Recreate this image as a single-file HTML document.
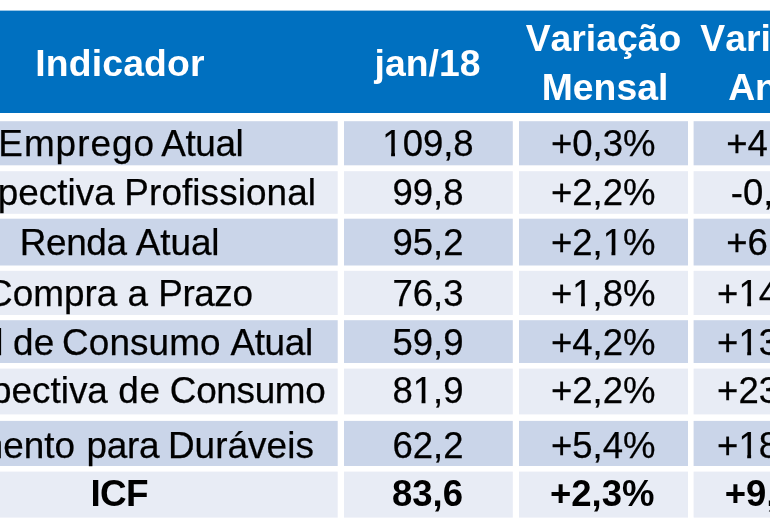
<!DOCTYPE html>
<html lang="pt-BR"><head><meta charset="utf-8"><title>ICF - Indicadores</title>
<style>
html,body{margin:0;padding:0;background:#fff;}
body{width:770px;height:529px;overflow:hidden;position:relative;font-family:"Liberation Sans",Arial,sans-serif;font-size:36.9px;color:#000;}
#wrap{position:absolute;left:0;top:0;width:770px;height:529px;overflow:hidden;filter:blur(0.45px);}
svg{position:absolute;left:0;top:0;}
.h{font-kerning:none;position:absolute;font-size:37.33px;color:#fff;font-weight:bold;text-align:center;white-space:nowrap;line-height:44px;width:400px;}
.x{-webkit-text-stroke:0.25px #000;position:absolute;text-align:center;white-space:nowrap;line-height:40px;width:600px;}
.x span{position:relative;}
.x span.o{display:inline-block;clip-path:polygon(0 0,100% 0,100% 29px,12.7px 29px,12.7px 100%,8.8px 100%,8.8px 29px,0 29px);}
.t{font-weight:bold;-webkit-text-stroke:0;}
</style></head><body><div id="wrap">
<svg width="770" height="529" viewBox="0 0 770 529">
<rect x="-10" y="-10" width="790" height="549" fill="#ffffff"/>
<rect x="-10" y="10.6" width="790" height="102.4" fill="#0070c0"/>
<rect x="-96" y="121.2" width="433.7" height="44.1" fill="#cad5e9"/>
<rect x="344" y="121.2" width="168.8" height="44.1" fill="#cad5e9"/>
<rect x="519" y="121.2" width="169.0" height="44.1" fill="#cad5e9"/>
<rect x="693.6" y="121.2" width="174.4" height="44.1" fill="#cad5e9"/>
<rect x="-96" y="171.2" width="433.7" height="42.6" fill="#e8ecf5"/>
<rect x="344" y="171.2" width="168.8" height="42.6" fill="#e8ecf5"/>
<rect x="519" y="171.2" width="169.0" height="42.6" fill="#e8ecf5"/>
<rect x="693.6" y="171.2" width="174.4" height="42.6" fill="#e8ecf5"/>
<rect x="-96" y="218.7" width="433.7" height="46.8" fill="#cad5e9"/>
<rect x="344" y="218.7" width="168.8" height="46.8" fill="#cad5e9"/>
<rect x="519" y="218.7" width="169.0" height="46.8" fill="#cad5e9"/>
<rect x="693.6" y="218.7" width="174.4" height="46.8" fill="#cad5e9"/>
<rect x="-96" y="270.8" width="433.7" height="44.2" fill="#e8ecf5"/>
<rect x="344" y="270.8" width="168.8" height="44.2" fill="#e8ecf5"/>
<rect x="519" y="270.8" width="169.0" height="44.2" fill="#e8ecf5"/>
<rect x="693.6" y="270.8" width="174.4" height="44.2" fill="#e8ecf5"/>
<rect x="-96" y="320.2" width="433.7" height="42.8" fill="#cad5e9"/>
<rect x="344" y="320.2" width="168.8" height="42.8" fill="#cad5e9"/>
<rect x="519" y="320.2" width="169.0" height="42.8" fill="#cad5e9"/>
<rect x="693.6" y="320.2" width="174.4" height="42.8" fill="#cad5e9"/>
<rect x="-96" y="368.6" width="433.7" height="45.8" fill="#e8ecf5"/>
<rect x="344" y="368.6" width="168.8" height="45.8" fill="#e8ecf5"/>
<rect x="519" y="368.6" width="169.0" height="45.8" fill="#e8ecf5"/>
<rect x="693.6" y="368.6" width="174.4" height="45.8" fill="#e8ecf5"/>
<rect x="-96" y="420.9" width="433.7" height="45.1" fill="#cad5e9"/>
<rect x="344" y="420.9" width="168.8" height="45.1" fill="#cad5e9"/>
<rect x="519" y="420.9" width="169.0" height="45.1" fill="#cad5e9"/>
<rect x="693.6" y="420.9" width="174.4" height="45.1" fill="#cad5e9"/>
<rect x="-96" y="471.6" width="433.7" height="46.0" fill="#e8ecf5"/>
<rect x="344" y="471.6" width="168.8" height="46.0" fill="#e8ecf5"/>
<rect x="519" y="471.6" width="169.0" height="46.0" fill="#e8ecf5"/>
<rect x="693.6" y="471.6" width="174.4" height="46.0" fill="#e8ecf5"/>
</svg>
<div class="h" style="left:-80.00px;top:40.87px;letter-spacing:0.15px;">Indicador</div>
<div class="h" style="left:227.50px;top:40.87px;">jan/18</div>
<div class="h" style="left:403.50px;top:15.87px;">Variação</div>
<div class="h" style="left:405.00px;top:65.17px;">Mensal</div>
<div class="h" style="left:578.20px;top:15.87px;">Variação</div>
<div class="h" style="left:580.00px;top:65.17px;">Anual</div>
<div class="x" style="left:-179.70px;top:124px;"><span style="letter-spacing:1.000px;margin-right:-7.000px">Emprego</span> <span style="left:3.00px;letter-spacing:-0.400px;margin-right:2.000px">Atual</span></div>
<div class="x" style="left:128.00px;top:124px;font-size:36.5px;"><span class="o">1</span>09,8</div>
<div class="x" style="left:303.20px;top:124px;font-size:36.5px;">+0,3%</div>
<div class="x" style="left:478.50px;top:124px;font-size:36.5px;">+4,<span class="o">1</span>%</div>
<div class="x" style="left:-179.70px;top:173px;"><span style="left:-1.50px">Perspectiva</span> <span style="left:-2.10px;letter-spacing:0.082px;margin-right:-0.982px">Profissional</span></div>
<div class="x" style="left:128.00px;top:173px;font-size:36.5px;">99,8</div>
<div class="x" style="left:303.20px;top:173px;font-size:36.5px;">+2,2%</div>
<div class="x" style="left:478.50px;top:173px;font-size:36.5px;">-0,4%</div>
<div class="x" style="left:-179.70px;top:223px;"><span style="left:1.00px;letter-spacing:-0.375px;margin-right:1.875px">Renda</span> <span style="left:-2.00px;letter-spacing:-0.075px;margin-right:0.375px">Atual</span></div>
<div class="x" style="left:128.00px;top:223px;font-size:36.5px;">95,2</div>
<div class="x" style="left:303.20px;top:223px;font-size:36.5px;">+2,<span class="o">1</span>%</div>
<div class="x" style="left:478.50px;top:223px;font-size:36.5px;">+6,3%</div>
<div class="x" style="left:-179.70px;top:274px;">Compra a <span style="letter-spacing:-0.425px;margin-right:2.125px">Prazo</span></div>
<div class="x" style="left:128.00px;top:274px;font-size:36.5px;">76,3</div>
<div class="x" style="left:303.20px;top:274px;font-size:36.5px;">+<span class="o">1</span>,8%</div>
<div class="x" style="left:479.50px;top:274px;font-size:36.5px;">+<span class="o">1</span>4,2%</div>
<div class="x" style="left:-179.70px;top:323px;"><span style="left:-1.90px">Nível</span> <span style="left:-2.70px;letter-spacing:0.100px;margin-right:-0.200px">de</span> <span style="left:-4.90px;letter-spacing:0.083px;margin-right:-0.583px">Consumo</span> <span style="left:-4.70px;letter-spacing:-0.350px;margin-right:1.750px">Atual</span></div>
<div class="x" style="left:128.00px;top:323px;font-size:36.5px;">59,9</div>
<div class="x" style="left:303.20px;top:323px;font-size:36.5px;">+4,2%</div>
<div class="x" style="left:479.50px;top:323px;font-size:36.5px;">+<span class="o">1</span>3,6%</div>
<div class="x" style="left:-179.70px;top:371px;"><span style="left:0.90px">Perspectiva</span> <span style="left:1.00px;letter-spacing:0.700px;margin-right:-1.400px">de</span> <span style="left:1.30px;letter-spacing:-0.317px;margin-right:2.217px">Consumo</span></div>
<div class="x" style="left:128.00px;top:371px;font-size:36.5px;">8<span class="o">1</span>,9</div>
<div class="x" style="left:303.20px;top:371px;font-size:36.5px;">+2,2%</div>
<div class="x" style="left:479.50px;top:371px;font-size:36.5px;">+23,<span class="o">1</span>%</div>
<div class="x" style="left:-179.70px;top:426px;"><span style="left:-2.20px">Momento</span> <span style="left:-1.10px;letter-spacing:-0.200px;margin-right:0.800px">para</span> <span style="left:-3.70px;letter-spacing:0.057px;margin-right:-0.457px">Duráveis</span></div>
<div class="x" style="left:128.00px;top:426px;font-size:36.5px;">62,2</div>
<div class="x" style="left:303.20px;top:426px;font-size:36.5px;">+5,4%</div>
<div class="x" style="left:479.50px;top:426px;font-size:36.5px;">+<span class="o">1</span>8,5%</div>
<div class="x t" style="left:-179.70px;top:474px;"><span style="letter-spacing:-0.750px;margin-right:2.250px">ICF</span></div>
<div class="x t" style="left:127.50px;top:474px;font-size:36.5px;">83,6</div>
<div class="x t" style="left:302.20px;top:474px;font-size:36.5px;">+2,3%</div>
<div class="x t" style="left:477.00px;top:474px;font-size:36.5px;">+9,0%</div>
</div></body></html>
